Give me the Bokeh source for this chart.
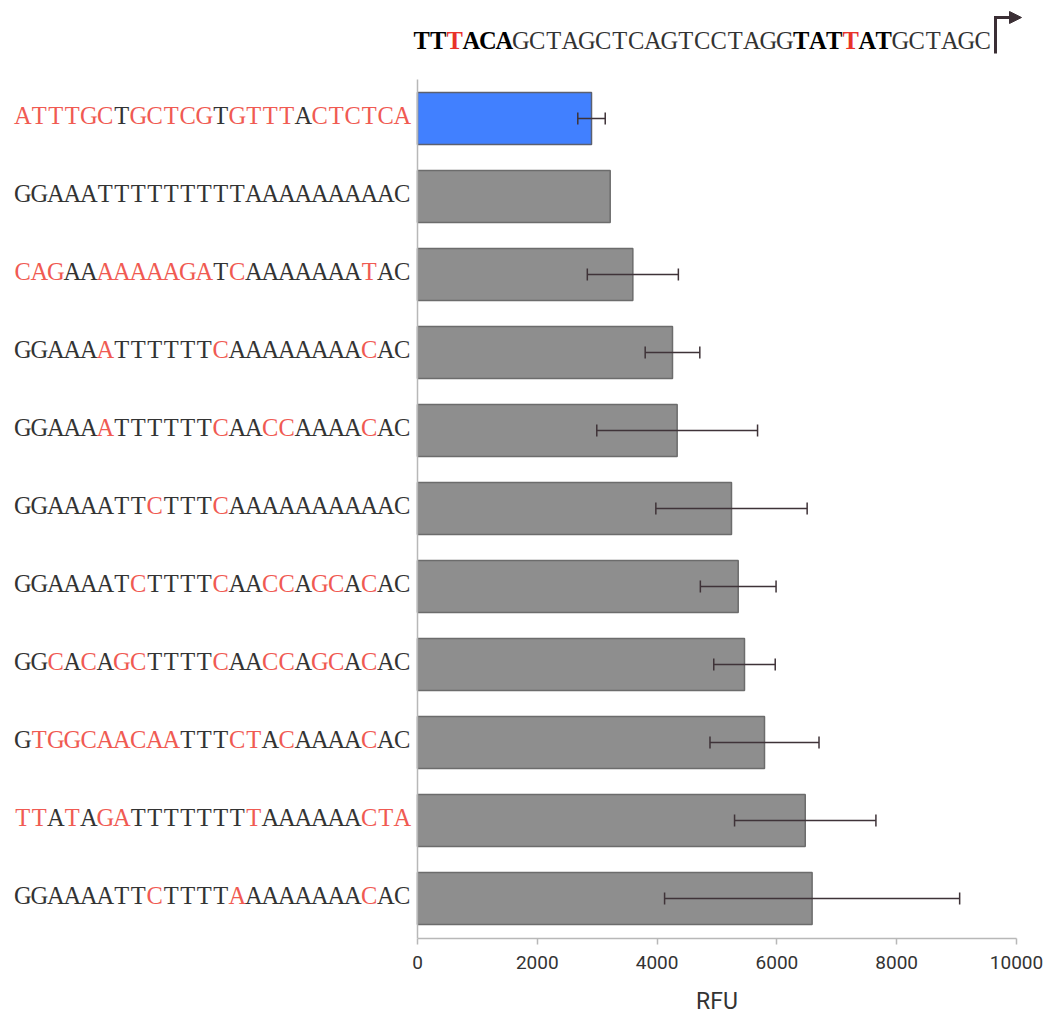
from bokeh.plotting import figure
from bokeh.layouts import column
from bokeh.models import (ColumnDataSource, Whisker, Arrow, NormalHead, TeeHead,
                          Range1d, FixedTicker)
from bokeh.core.properties import value
from bokeh.embed import file_html
from bokeh.resources import INLINE

# ---- data (top row first); lowercase letters = mutated bases (shown red) ----
sequences = [
    "atttgcTgctcgTgtttActctca",
    "GGAAATTTTTTTTTAAAAAAAAAC",
    "cagAAaaaaagaTcAAAAAAAtAC",
    "GGAAAaTTTTTTcAAAAAAAAcAC",
    "GGAAAaTTTTTTcAAccAAAAcAC",
    "GGAAAATTcTTTcAAAAAAAAAAC",
    "GGAAAATcTTTTcAAccAgcAcAC",
    "GGcAcAgcTTTTcAAccAgcAcAC",
    "GtggcaacaaTTTctAcAAAAcAC",
    "ttAtAgaTTTTTTTtAAAAAActa",
    "GGAAAATTcTTTTaAAAAAAAcAC",
]
rfu = [2905, 3217, 3595, 4257, 4335, 5242, 5354, 5459, 5793, 6473, 6588]
rfu_err = [229, 0, 760, 456, 1342, 1263, 632, 513, 910, 1180, 2463]
highlight = [True] + [False] * 10

promoter = "TTTACAGCTAGCTCAGTCCTAGGTATTATGCTAGC"
# B = bold black, R = bold red, n = normal
promoter_style = "BBRBBBnnnnnnnnnnnnnnnnnBBBRBBnnnnnn"

x_ticks = [0, 2000, 4000, 6000, 8000, 10000]
x_label = "RFU"

# ---- layout constants (pixels) ----
W, H_MAIN, H_LABEL = 1046, 985, 28
AXIS_X, X_END, FRAME_B = 417, 1016, 938
ROW_PX = 78.0
BOTTOM_PAD_PX = 40.0
CHAR_W = 16.5
SEQ_FONT = "Liberation Serif"
SEQ_SIZE = "24.5px"
TEXT_LIFT_PX = 3.0
n = len(sequences)
XMAX = 10000.0
PX_PER_X = (X_END - AXIS_X) / XMAX
y_lo = -BOTTOM_PAD_PX / ROW_PX
y_hi = y_lo + FRAME_B / ROW_PX


def y_at(py):
    return y_lo + (FRAME_B - py) / ROW_PX


def x_at(px):
    return (px - AXIS_X) / PX_PER_X


p = figure(width=W, height=H_MAIN, output_backend="svg", toolbar_location=None,
           x_range=Range1d(x_at(0), x_at(W)), y_range=Range1d(y_lo, y_hi),
           min_border_left=0, min_border_right=0, min_border_top=0,
           min_border_bottom=H_MAIN - FRAME_B, y_axis_location=None, tools="")
p.outline_line_color = None
p.xgrid.visible = False
p.ygrid.visible = False

ys = [n - 1 - i for i in range(n)]
bar_src = ColumnDataSource(dict(
    y=ys, right=rfu,
    fill=["#4180ff" if h else "#8e8e8e" for h in highlight],
    line=["#5b6070" if h else "#6c6c6c" for h in highlight],
))
p.hbar(y="y", right="right", left=0, height=52 / ROW_PX, source=bar_src,
       fill_color="fill", line_color="line", line_width=1.5)

# vertical (category) axis line
p.segment(x0=[0], y0=[y_lo], x1=[0], y1=[y_at(79)], line_color="#b8b8b8", line_width=1.5)

wsk = dict(base=[], lower=[], upper=[])
for y, v, e in zip(ys, rfu, rfu_err):
    if e > 0:
        wsk["base"].append(y)
        wsk["lower"].append(v - e)
        wsk["upper"].append(v + e)
err_col = "#3f3338"
p.add_layout(Whisker(base="base", lower="lower", upper="upper", dimension="width",
                     source=ColumnDataSource(wsk), line_color=err_col, line_width=1.5,
                     lower_head=TeeHead(size=12, line_color=err_col, line_width=1.5),
                     upper_head=TeeHead(size=12, line_color=err_col, line_width=1.5),
                     level="overlay"))

# ---- x axis ----
xa = p.xaxis[0]
xa.ticker = FixedTicker(ticks=x_ticks)
xa.bounds = (0, XMAX)
xa.axis_line_color = "#b8b8b8"
xa.axis_line_width = 1.5
xa.major_tick_line_color = "#b8b8b8"
xa.major_tick_line_width = 1.5
xa.major_tick_out = 6
xa.major_tick_in = 0
xa.minor_tick_line_color = None
xa.major_label_standoff = 11
xa.major_label_text_font = "Roboto"
xa.major_label_text_font_size = "19px"
xa.major_label_text_color = "#333333"

# ---- coloured sequence labels (one text item per base) ----
lift = TEXT_LIFT_PX / ROW_PX
seq = dict(x=[], y=[], xo=[], text=[], color=[], style=[])
for y, s in zip(ys, sequences):
    m = len(s)
    for j, ch in enumerate(s):
        seq["x"].append(0)
        seq["y"].append(y + lift)
        seq["xo"].append(-7 - CHAR_W * (m - 1 - j + 0.5))
        seq["text"].append(ch.upper())
        seq["color"].append("#f05a52" if ch.islower() else "#333333")
        seq["style"].append("normal")

y_prom = y_at(40)
for j, (ch, st) in enumerate(zip(promoter, promoter_style)):
    seq["x"].append(0)
    seq["y"].append(y_prom)
    seq["xo"].append(-4 + CHAR_W * (j + 0.5))
    seq["text"].append(ch)
    seq["color"].append("#e8322a" if st == "R" else ("#000000" if st == "B" else "#333333"))
    seq["style"].append("bold" if st in "BR" else "normal")

p.text(x="x", y="y", x_offset="xo", text="text", text_color="color",
       text_font_style="style", text_font=value(SEQ_FONT),
       text_font_size=value(SEQ_SIZE), text_align="center",
       text_baseline="middle", source=ColumnDataSource(seq))

# ---- transcription start arrow ----
arrow_col = "#3b2f35"
x_bend = x_at(995)
p.add_layout(Arrow(x_start=x_bend, y_start=y_at(53), x_end=x_bend, y_end=y_at(15.5),
                   end=None, line_color=arrow_col, line_width=3))
p.add_layout(Arrow(x_start=x_bend, y_start=y_at(17), x_end=x_at(1021), y_end=y_at(17),
                   end=NormalHead(size=12, fill_color=arrow_col, line_color=arrow_col),
                   line_color=arrow_col, line_width=3))

# ---- axis title strip, centred under the 0..10000 span ----
q = figure(width=W, height=H_LABEL, output_backend="svg", toolbar_location=None,
           x_range=p.x_range, y_range=Range1d(0, H_LABEL),
           min_border_left=0, min_border_right=0, min_border_top=0, min_border_bottom=0,
           x_axis_location=None, y_axis_location=None, tools="")
q.outline_line_color = None
q.xgrid.visible = False
q.ygrid.visible = False
q.text(x=[XMAX / 2], y=[H_LABEL - 16], text=[x_label], text_align="center",
       text_baseline="middle", text_font=value("Roboto"), text_font_size=value("23px"),
       text_color="#333333")

layout = column(p, q, spacing=0)
open("out.html", "w").write(file_html(layout, INLINE))
